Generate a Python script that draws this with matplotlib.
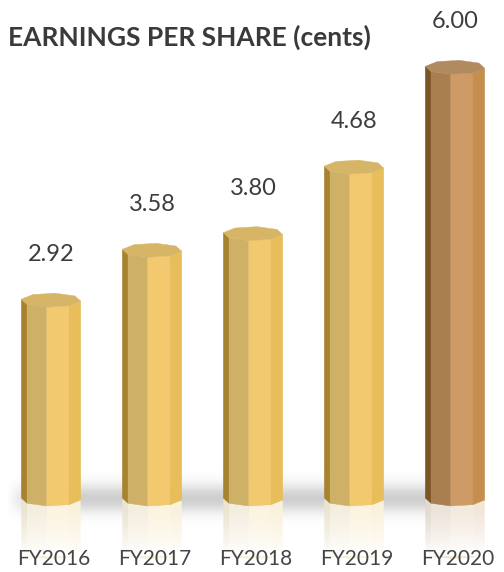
import numpy as np
import matplotlib.pyplot as plt
from matplotlib.patches import Polygon
from matplotlib.colors import to_rgb

# data
years = ['FY2016', 'FY2017', 'FY2018', 'FY2019', 'FY2020']
eps = [2.92, 3.58, 3.80, 4.68, 6.00]
labels = ['2.92', '3.58', '3.80', '4.68', '6.00']

# face colours: left strip, front-left, front-right, right strip, top
gold = ['#A8832F', '#CFB067', '#F2C96F', '#E8BE5B', '#D6B666']
bronze = ['#7D5424', '#A97F50', '#CE9A66', '#C58E4F', '#B08B5F']
colours = [gold, gold, gold, gold, bronze]

plt.rcParams['font.family'] = ['Lato', 'DejaVu Sans']

fig = plt.figure(figsize=(5.04, 5.72), dpi=100)
ax = fig.add_axes([0, 0, 1, 1])
ax.axis('off')

hw = 0.297      # half width of a bar
ry = 0.093      # half height of the octagon seen from above
floor = 0.29    # where the prisms stand
ang = np.radians(172 + 45 * np.arange(9))
vx = hw * np.cos(ang)
vy = ry * np.sin(ang)

# soft grey shadow behind the bar feet
xs = np.linspace(-0.505, 4.485, 400)
ys = np.linspace(floor - 0.6, floor + 0.6, 160)
gx = np.clip((xs + 0.45) / 0.3, 0, 1) * np.clip((4.05 - xs) / 0.15, 0, 1)
gy = np.exp(-((ys - floor) / 0.19) ** 2)
shade = np.zeros((len(ys), len(xs), 4))
shade[..., 3] = 0.19 * np.outer(gy, gx)
ax.imshow(shade, extent=(xs[0], xs[-1], ys[0], ys[-1]), origin='lower',
          aspect='auto', zorder=0, interpolation='bilinear')

for i, v in enumerate(eps):
    c = colours[i]
    x = i + vx
    # reflection on the floor
    for k in range(4):
        col = 0.22 * np.array(to_rgb(c[k])) + 0.78
        ax.add_patch(Polygon([(x[k], floor + vy[k]), (x[k + 1], floor + vy[k + 1]),
                              (x[k + 1], floor + vy[k + 1] - 0.7), (x[k], floor + vy[k] - 0.7)],
                             closed=True, fc=col, ec='none', zorder=1))
    # sides
    for k in range(4):
        ax.add_patch(Polygon([(x[k], v + vy[k]), (x[k + 1], v + vy[k + 1]),
                              (x[k + 1], floor + vy[k + 1]), (x[k], floor + vy[k])],
                             closed=True, fc=c[k], ec=c[k], lw=0.3, zorder=3))
    # top
    ax.add_patch(Polygon(list(zip(x[:8], v + vy[:8])), closed=True,
                         fc=c[4], ec=c[4], lw=0.3, zorder=4))
    ax.text(i, v + 0.6, labels[i], ha='center', va='center', fontsize=17,
            color='#3C3C3C', zorder=5)
    ax.text(i + 0.03, -0.5, years[i], ha='center', va='center', fontsize=15,
            color='#454545', zorder=5)

# fade the reflection out
fade = np.ones((100, 2, 4))
fade[..., 3] = np.linspace(1, 0, 100)[:, None] ** 1.3
ax.imshow(fade, extent=(-0.505, 4.485, floor - 0.75, floor - ry), origin='lower',
          aspect='auto', zorder=2, interpolation='bilinear')

ax.set_xlim(-0.505, 4.485)
ax.set_ylim(-0.675, 6.89)

fig.text(0.016, 0.934, 'EARNINGS PER SHARE (cents)', fontsize=19, fontweight='bold',
         color='#3A3A3A', ha='left', va='center')

fig.savefig('out.png', dpi=100)
